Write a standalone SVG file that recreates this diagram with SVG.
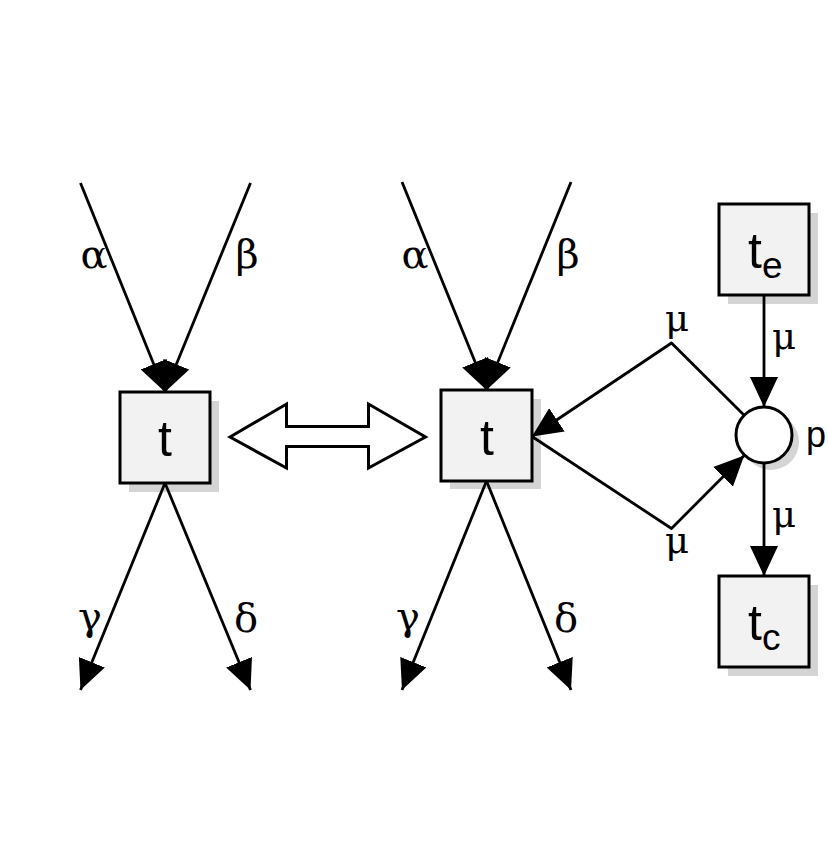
<svg xmlns="http://www.w3.org/2000/svg" width="828" height="868" viewBox="0 0 828 868">
<style>
.box{fill:#f2f2f2;stroke:#000;stroke-width:3}
.shadow{fill:#d4d4d4;stroke:none}
.edge{fill:none;stroke:#000;stroke-width:2.8;stroke-linejoin:round}
.greek{font-family:"DejaVu Serif","Liberation Serif",serif;font-size:40px;fill:#000;text-anchor:middle}
.mu{font-family:"DejaVu Serif","Liberation Serif",serif;font-size:37px;fill:#000;text-anchor:middle}
.lbl{font-family:"Liberation Sans","Noto Sans",sans-serif;fill:#000}
</style>
<defs>
<marker id="ah" viewBox="0 0 30 28" refX="30" refY="14" markerWidth="30" markerHeight="28" markerUnits="userSpaceOnUse" orient="auto">
<path d="M0,0 L30,14 L0,28 z" fill="#000"/>
</marker>
</defs>
<rect width="828" height="868" fill="#fff"/>

<g id="t-left">
<rect class="shadow" x="129" y="401" width="90" height="91"/>
<rect class="box" x="120" y="392" width="90" height="91"/>
<text class="lbl" x="165" y="456" font-size="50" text-anchor="middle">t</text>
</g>

<g id="t-right">
<rect class="shadow" x="450" y="399" width="91" height="90"/>
<rect class="box" x="441" y="390" width="91" height="91"/>
<text class="lbl" x="487" y="455" font-size="50" text-anchor="middle">t</text>
</g>

<g id="t-e">
<rect class="shadow" x="728" y="213" width="90" height="91"/>
<rect class="box" x="719" y="204" width="90" height="91"/>
<text class="lbl" x="748" y="268" font-size="50">t<tspan font-size="37" dy="10">e</tspan></text>
</g>

<g id="place-p">
<circle cx="771" cy="442" r="28" class="shadow"/>
<circle cx="764" cy="435" r="28" fill="#fff" stroke="#000" stroke-width="3"/>
<text class="lbl" x="806" y="447" font-size="36">p</text>
</g>

<g id="t-c">
<rect class="shadow" x="728" y="585" width="90" height="91"/>
<rect class="box" x="719" y="576" width="90" height="91"/>
<text class="lbl" x="748" y="640" font-size="50">t<tspan font-size="37" dy="10">c</tspan></text>
</g>

<g id="connectors">
<line class="edge" x1="80.5" y1="183" x2="165" y2="392" marker-end="url(#ah)"/>
<line class="edge" x1="250.5" y1="183" x2="165" y2="392" marker-end="url(#ah)"/>
<line class="edge" x1="165" y1="483" x2="80.5" y2="690" marker-end="url(#ah)"/>
<line class="edge" x1="165" y1="483" x2="250.5" y2="690" marker-end="url(#ah)"/>
<line class="edge" x1="402" y1="182" x2="486.5" y2="390" marker-end="url(#ah)"/>
<line class="edge" x1="571" y1="182" x2="486.5" y2="390" marker-end="url(#ah)"/>
<line class="edge" x1="486.5" y1="481" x2="402" y2="690" marker-end="url(#ah)"/>
<line class="edge" x1="486.5" y1="481" x2="571" y2="690" marker-end="url(#ah)"/>
<path class="edge" d="M744.2,415.2 L671.5,343 L532,436.5" marker-end="url(#ah)"/>
<path class="edge" d="M532,436.5 L671.5,528.5 L744.2,455.5" marker-end="url(#ah)"/>
<line class="edge" x1="764" y1="295" x2="764" y2="407" marker-end="url(#ah)"/>
<line class="edge" x1="764" y1="463" x2="764" y2="576" marker-end="url(#ah)"/>
<polygon points="230,437 286.5,404 286.5,426.5 368.5,426.5 368.5,404 425.5,437 368.5,468 368.5,446.5 286.5,446.5 286.5,468" fill="#fff" stroke="#000" stroke-width="3" stroke-linejoin="miter"/>
</g>

<g id="labels">
<text class="greek" x="94" y="268">α</text>
<text class="greek" x="247" y="268">β</text>
<text class="greek" x="90" y="630">γ</text>
<text class="greek" x="246" y="632">δ</text>
<text class="greek" x="415" y="268">α</text>
<text class="greek" x="568" y="268">β</text>
<text class="greek" x="408" y="630">γ</text>
<text class="greek" x="566" y="632">δ</text>
<text class="mu" x="677" y="331">μ</text>
<text class="mu" x="677" y="553">μ</text>
<text class="mu" x="784" y="349">μ</text>
<text class="mu" x="784" y="527">μ</text>
</g>
</svg>
